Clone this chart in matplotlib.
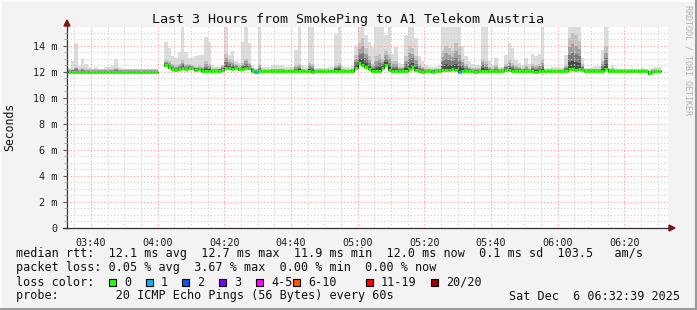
import numpy as np
import matplotlib
matplotlib.use("Agg")
import matplotlib.pyplot as plt
from matplotlib.ticker import MultipleLocator, FuncFormatter
from matplotlib.patches import Rectangle, Polygon
from matplotlib.lines import Line2D

# ---- data (one value per 60s step, first step 03:33) ----
start_minute = 3 * 60 + 33
N = None

median_ms = [
    12.02, 12.02, 12.02, 12.02, 12.02, 12.02, 12.02, 12.02, 12.02, 12.02,
    12.02, 12.02, 12.02, 12.02, 12.02, 12.02, 12.02, 12.02, 12.02, 12.02,
    12.02, 12.02, 12.02, 12.02, 12.02, 12.02, 12.02, N, N,
    12.5, 12.35, 12.25, 12.18, 12.25, 12.3, 12.25, 12.3, 12.3, 12.18,
    12.2, 12.1, 12.08, 12.08, 12.08, 12.08, 12.1,
    12.15, 12.28, 12.28, 12.25, 12.28, 12.2, 12.25, 12.33, 12.3,
    12.1, 12.02, 12.05, 12.05, 12.05, 12.05, 12.08, 12.05, 12.05, 12.05,
    12.05, 12.08, 12.05, 12.05, 12.1, 12.05, 12.05, 12.05, 12.02, 12.05,
    12.05, 12.05, 12.05, 12.08, 12.08, 12.1, 12.1, 12.05, 12.05, 12.05, 12.08,
    12.28, 12.65, 12.55, 12.4, 12.25, 12.08,
    12.05, 12.05,
    12.3, 12.5, 12.15,
    12.08, 12.05, 12.05, 12.05, 12.08,
    12.2, 12.4, 12.15,
    12.05, 12.02, 12.05, 12.05, 12.02, 12.05, 12.08,
    12.15, 12.18, 12.15, 12.2, 12.15, 12.02, 12.1,
    12.05, 12.05, 12.05, 12.02, 12.05, 12.08, 12.05, 12.05, 12.05, 12.05, 12.05, 12.05,
    12.15, 12.12, 12.1,
    12.05, 12.05, 12.08, 12.05, 12.05, 12.05, 12.02, 12.05, 12.05, 12.05,
    12.08, 12.05, 12.05, 12.05, 12.05, 12.08,
    12.2, 12.22, 12.18, 12.22, 12.15,
    12.05, 12.05, 12.05, 12.08, 12.08, 12.1,
    12.25,
    12.05, 12.05, 12.05, 12.05, 12.05, 12.05, 12.05, 12.05, 12.05, 12.05, 12.05, 12.05,
    11.9,
    12.02, 12.05, 12.05,
]

top_ms = [
    12.3, 12.85, 14.2, 12.45, 13.0, 12.6, 12.4, 12.25, 12.35, 12.2,
    12.25, 12.35, 12.35, 12.5, 13.0, 12.35, 12.15, 12.15, 12.25, 12.25,
    12.2, 12.15, 12.15, 12.2, 12.15, 12.15, 12.15, N, N,
    14.3, 13.8, 13.2, 13.1, 13.55, 15.5, 13.55, 13.1, 13.05, 13.2,
    13.3, 13.3, 14.65, 14.3, 12.55, 12.4, 12.4,
    12.5, 15.5, 13.3, 13.6, 12.8, 12.7, 14.3, 15.5, 14.2,
    12.5, 12.3, 15.5, 12.35, 12.35, 12.4, 12.5, 12.5, 12.5, 12.5,
    12.4, 12.35, 12.4, 13.7, 15.5, 12.5, 12.4, 15.5, 15.5, 12.3,
    12.3, 12.3, 12.3, 12.35, 12.4, 14.9, 15.5, 12.45, 12.35, 12.4, 12.5,
    14.0, 15.5, 15.5, 14.8, 14.3, 13.9,
    15.5, 15.5,
    15.5, 14.8, 15.5,
    13.4, 13.9, 12.7, 12.6, 14.8,
    15.5, 15.5, 14.6,
    13.2, 12.8, 12.5, 12.4, 12.4, 12.35, 12.5,
    15.5, 15.5, 15.5, 15.5, 15.5, 15.5, 14.0,
    13.2, 12.8, 12.6, 12.5, 12.5, 15.5, 15.5, 12.8, 12.5, 13.1, 12.4, 12.4,
    13.3, 14.2, 13.8,
    12.9, 12.7, 12.5, 13.1, 12.6, 13.4, 13.2, 13.4, 15.5, 12.3,
    12.3, 12.35, 12.35, 12.35, 12.3, 13.3,
    15.5, 15.5, 15.5, 15.5, 13.1,
    12.3, 12.3, 12.4, 12.45, 12.45, 13.7,
    15.5,
    12.3, 12.5, 12.3, 12.2, 12.2, 12.2, 12.2, 12.2, 12.2, 12.2, 12.3, 12.2,
    12.2,
    12.3, 12.35, 12.35,
]

# upper edge of the darker smoke
hi_ms = [
    12.2, 12.25, 12.4, 12.2, 12.3, 12.2, 12.2, 12.2, 12.2, 12.2,
    12.2, 12.2, 12.2, 12.2, 12.3, 12.2, 12.2, 12.2, 12.2, 12.2,
    12.2, 12.2, 12.2, 12.2, 12.2, 12.2, 12.2, N, N,
    12.9, 12.8, 12.6, 12.5, 12.6, 12.9, 12.6, 12.6, 12.5, 12.4,
    12.5, 12.4, 12.8, 12.6, 12.3, 12.3, 12.3,
    12.5, 13.4, 13.0, 12.9, 12.6, 12.5, 12.7, 13.0, 12.7,
    12.3, 12.2, 12.6, 12.2, 12.2, 12.2, 12.25, 12.25, 12.25, 12.25,
    12.2, 12.2, 12.2, 12.5, 12.6, 12.25, 12.2, 12.7, 12.6, 12.2,
    12.2, 12.2, 12.2, 12.2, 12.2, 12.5, 12.7, 12.25, 12.2, 12.2, 12.25,
    13.3, 14.2, 14.6, 13.8, 13.2, 12.6,
    13.2, 13.4,
    13.0, 13.6, 13.3,
    12.8, 12.8, 12.4, 12.4, 13.2,
    14.0, 13.8, 13.2,
    12.6, 12.4, 12.25, 12.25, 12.25, 12.25, 12.25,
    13.6, 14.0, 13.8, 13.6, 14.2, 13.9, 13.0,
    12.6, 12.4, 12.3, 12.3, 12.3, 13.0, 12.8, 12.4, 12.3, 12.5, 12.25, 12.3,
    12.6, 12.9, 12.7,
    12.5, 12.4, 12.3, 12.5, 12.3, 12.6, 12.5, 12.6, 13.0, 12.2,
    12.2, 12.2, 12.2, 12.2, 12.2, 12.5,
    14.6, 15.0, 14.8, 14.4, 12.6,
    12.25, 12.25, 12.25, 12.25, 12.25, 12.8,
    14.0,
    12.25, 12.3, 12.2, 12.2, 12.2, 12.2, 12.2, 12.2, 12.2, 12.2, 12.2, 12.2,
    12.1,
    12.2, 12.2, 12.2,
]

# lost pings per step (steps not listed: 0)
loss_steps = {"04:29": 1, "05:30": 1}

x_tick_labels = ["03:40", "04:00", "04:20", "04:40", "05:00",
                 "05:20", "05:40", "06:00", "06:20"]

loss_labels = ["0", "1", "2", "3", "4-5", "6-10", "11-19", "20/20"]
loss_colors = ["#26ff00", "#00b8ff", "#0059ff", "#7e00ff",
               "#ff00ff", "#ff5500", "#ff0000", "#a10000"]

title = "Last 3 Hours from SmokePing to A1 Telekom Austria"
rtt_line = "median rtt:  12.1 ms avg  12.7 ms max  11.9 ms min  12.0 ms now  0.1 ms sd  103.5   am/s"
loss_line = "packet loss: 0.05 % avg  3.67 % max  0.00 % min  0.00 % now"
probe_line = "probe:        20 ICMP Echo Pings (56 Bytes) every 60s"
stamp = "Sat Dec  6 06:32:39 2025"

assert len(median_ms) == len(top_ms) == len(hi_ms)

# ---- figure ----
plt.rcParams["font.family"] = "DejaVu Sans Mono"
W, H = 697, 310
fig = plt.figure(figsize=(W / 100, H / 100), dpi=100, facecolor="#f3f3f3")


def fx(x):
    return x / W


def fy(y):
    return 1 - y / H


ax = fig.add_axes([fx(67), fy(228), (668 - 67) / W, (228 - 27) / H])
ax.set_facecolor("#fdfdfd")

med = np.array(median_ms, dtype=float)
top = np.array(top_ms, dtype=float)
hi = np.array(hi_ms, dtype=float)
t = start_minute + np.arange(len(med))
ok = ~np.isnan(med)
low = med - 0.12

# smoke
ax.bar(t[ok], (top - low)[ok], bottom=low[ok], width=1, align="edge",
       color="#dcdcdc", linewidth=0, zorder=1)
for frac, col in [(1.0, "#c2c2c2"), (0.7, "#a0a0a0"), (0.45, "#7a7a7a"), (0.22, "#4a4a4a")]:
    h = med + (hi - med) * frac
    ax.bar(t[ok], (h - low)[ok], bottom=low[ok], width=1, align="edge",
           color=col, linewidth=0, zorder=1)

# median, coloured by loss
step_loss = np.zeros(len(med), dtype=int)
for hhmm, n in loss_steps.items():
    hh, mm = hhmm.split(":")
    step_loss[int(hh) * 60 + int(mm) - start_minute] = n
edges = np.append(t, t[-1] + 1)
ax.step(edges, np.append(med, med[-1]), where="post", color="black", lw=0.8, zorder=3)
line_cols = [loss_colors[min(n, 1)] if n < 2 else loss_colors[2] for n in step_loss]
ax.hlines(med[ok], t[ok], t[ok] + 1, colors=np.array(line_cols)[ok], lw=2.2,
          zorder=4, capstyle="butt")

# axes, grid
ax.set_xlim(212.8, 393.1)
ax.set_ylim(0, 15.45)
ax.xaxis.set_major_locator(MultipleLocator(20))
ax.xaxis.set_minor_locator(MultipleLocator(5))
ax.yaxis.set_major_locator(MultipleLocator(2))
ax.yaxis.set_minor_locator(MultipleLocator(0.5))
tick_pos = [220 + 20 * k for k in range(len(x_tick_labels))]
ax.set_xticks(tick_pos, x_tick_labels)
ax.yaxis.set_major_formatter(FuncFormatter(lambda v, p: "0" if v == 0 else f"{int(round(v))} m"))
ax.set_axisbelow(False)
ax.grid(which="minor", color="#cfcfcf", lw=0.8, ls=(0, (1, 2)))
ax.grid(which="major", color="#ff9a9a", lw=0.8, ls=(0, (1, 2)))
ax.tick_params(which="major", length=3, width=0.8, color="#555555",
               labelsize=7.3, labelcolor="#222222", pad=4)
ax.tick_params(which="minor", length=2, width=0.6, color="#999999")
ax.tick_params(axis="x", which="both", length=0, pad=7)
for s in ["top", "right"]:
    ax.spines[s].set_visible(False)
for s in ["left", "bottom"]:
    ax.spines[s].set_color("#333333")
    ax.spines[s].set_linewidth(0.9)

# axis extensions and arrows
fig.add_artist(Line2D([fx(67), fx(67)], [fy(27), fy(24)], color="#333333", lw=0.9))
fig.add_artist(Line2D([fx(63), fx(67)], [fy(228), fy(228)], color="#333333", lw=0.9))
fig.add_artist(Line2D([fx(668), fx(670)], [fy(228), fy(228)], color="#333333", lw=0.9))
fig.add_artist(Polygon([[fx(64), fy(26)], [fx(70), fy(26)], [fx(67), fy(20)]],
                       closed=True, color="#8b1010", transform=fig.transFigure))
fig.add_artist(Polygon([[fx(669), fy(225)], [fx(669), fy(231)], [fx(675), fy(228)]],
                       closed=True, color="#8b1010", transform=fig.transFigure))

# texts
fig.text(fx(348), fy(19), title, ha="center", va="center", fontsize=9.6, color="#111111")
fig.text(fx(10), fy(127), "Seconds", rotation=90, ha="center", va="center",
         fontsize=8.3, color="#111111")
fig.text(fx(688), fy(60), "RRDTOOL / TOBI OETIKER", rotation=270, ha="center",
         va="center", fontsize=6.0, color="#b0b0b0")

fs = 8.5
fig.text(fx(16), fy(254), rtt_line, ha="left", va="center", fontsize=fs, color="#111111")
fig.text(fx(16), fy(268), loss_line, ha="left", va="center", fontsize=fs, color="#111111")
fig.text(fx(16), fy(282), "loss color:", ha="left", va="center", fontsize=fs, color="#111111")
sq_x = [109, 146, 182, 219, 256, 293, 366, 431]
for x, lab, col in zip(sq_x, loss_labels, loss_colors):
    fig.add_artist(Rectangle((fx(x), fy(285.5)), 7 / W, 7 / H, facecolor=col,
                             edgecolor="black", lw=0.8, transform=fig.transFigure))
    fig.text(fx(x + 15), fy(282), lab, ha="left", va="center", fontsize=fs, color="#111111")
fig.text(fx(16), fy(296), probe_line, ha="left", va="center", fontsize=fs, color="#111111")
fig.text(fx(680), fy(296), stamp, ha="right", va="center", fontsize=fs, color="#111111")

# image frame
fig.add_artist(Line2D([0, 1], [fy(0.5), fy(0.5)], color="#ffffff", lw=1.2))
fig.add_artist(Line2D([fx(0.5), fx(0.5)], [0, 1], color="#ffffff", lw=1.2))
fig.add_artist(Line2D([0, 1], [fy(309), fy(309)], color="#9a9a9a", lw=1.5))
fig.add_artist(Line2D([fx(696), fx(696)], [0, 1], color="#9a9a9a", lw=1.5))

fig.savefig("out.png", dpi=100, facecolor=fig.get_facecolor())
